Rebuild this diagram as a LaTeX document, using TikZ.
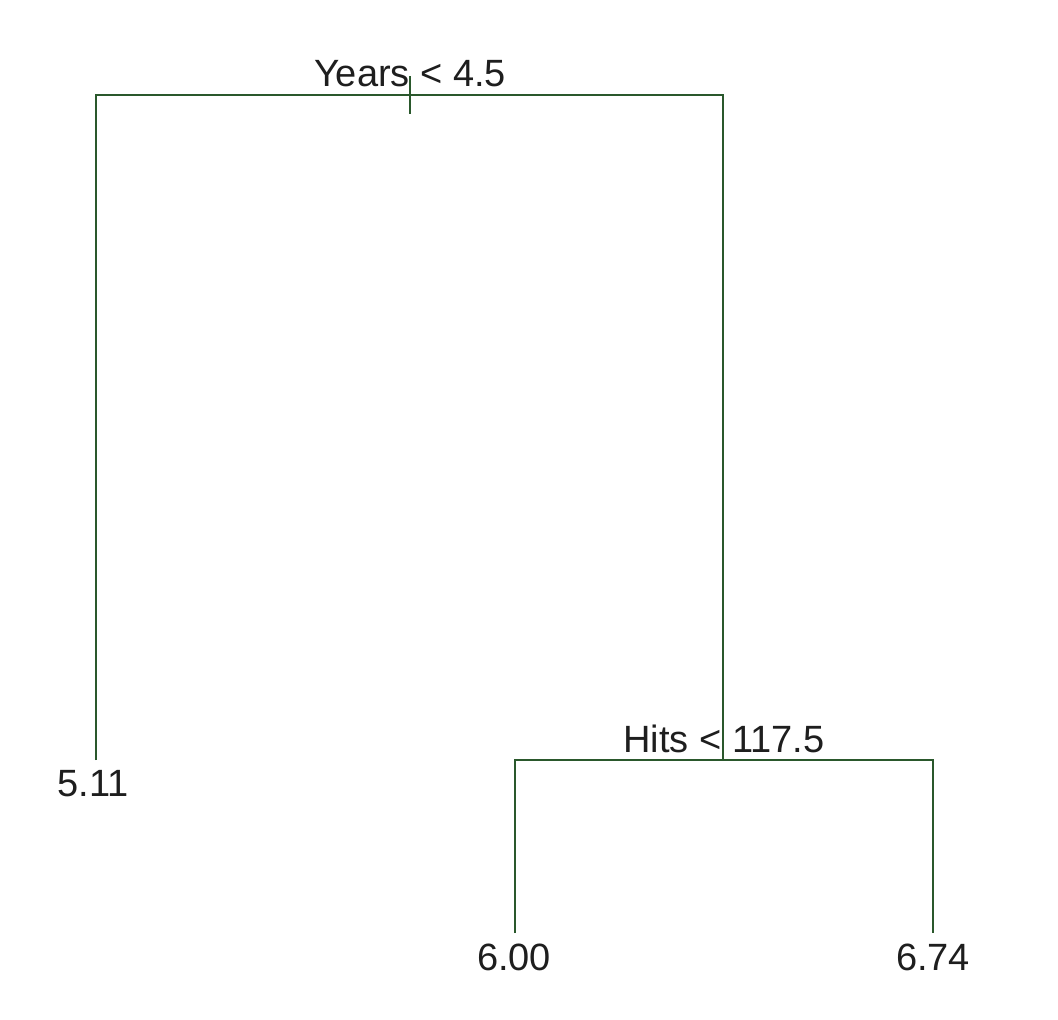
\documentclass[tikz,border=0pt]{standalone}
\usepackage{fontspec}
\setmainfont{Liberation Sans}
\definecolor{treegreen}{RGB}{42,88,44}
\definecolor{labelgray}{RGB}{30,30,30}
\begin{document}
\begin{tikzpicture}[x=1pt,y=-1pt,
  branch/.style={draw=treegreen,line width=2.2pt},
  lbl/.style={anchor=base,inner sep=0pt,text=labelgray,font=\fontsize{38}{45}\selectfont}]
\fill[white] (0,0) rectangle (1058,1020);
\useasboundingbox (0,0) rectangle (1058,1020);
% tree points
\coordinate (rootL) at (96,95);
\coordinate (rootR) at (723,95);
\coordinate (rootT1) at (410,76);
\coordinate (rootT2) at (410,114);
\coordinate (leafA) at (96,760);
\coordinate (splitL) at (515,760);
\coordinate (splitM) at (723,760);
\coordinate (splitR) at (933,760);
\coordinate (leafB) at (515,933);
\coordinate (leafC) at (933,933);
% labels
\node[lbl] (years) at (410,86) {Years < 4.5};
\node[lbl] (hits) at (724,752) {Hits < 117.5};
\node[lbl] (v511) at (93,796) {5.11};
\node[lbl] (v600) at (514,970) {6.00};
\node[lbl] (v674) at (933,970) {6.74};
% branches
\draw[branch] (leafA) -- (rootL) -- (rootR) -- (splitM);
\draw[branch] (rootT1) -- (rootT2);
\draw[branch] (leafB) -- (splitL) -- (splitR) -- (leafC);
\end{tikzpicture}
\end{document}
